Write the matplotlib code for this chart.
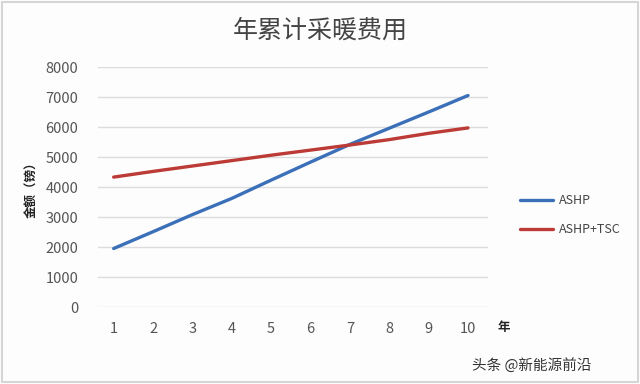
import matplotlib
matplotlib.use("Agg")
import matplotlib.pyplot as plt
from matplotlib.patches import Rectangle

plt.rcParams['font.family'] = ['Noto Sans CJK SC', 'DejaVu Sans']

years = [1, 2, 3, 4, 5, 6, 7, 8, 9, 10]
ashp = [1950, 2510, 3080, 3620, 4230, 4830, 5420, 5960, 6500, 7050]
ashp_tsc = [4330, 4520, 4700, 4880, 5060, 5230, 5400, 5580, 5790, 5970]
yticks = [0, 1000, 2000, 3000, 4000, 5000, 6000, 7000, 8000]

fig = plt.figure(figsize=(6.4, 3.84), dpi=100)
fig.patch.set_facecolor('#fdfdfe')
ax = fig.add_axes([0.153, 0.2005, 0.609, 0.625])
ax.set_facecolor('#fdfdfe')

ax.plot(years, ashp, color='#3b70b9', lw=2.4, label='ASHP', solid_capstyle='round')
ax.plot(years, ashp_tsc, color='#bc3b36', lw=2.4, label='ASHP+TSC', solid_capstyle='round')

ax.set_xlim(0.6, 10.5)
ax.set_ylim(0, 8000)
ax.set_yticks(yticks)
ax.set_xticks(years)
ax.yaxis.grid(True, color='#dcdcdc', lw=1)
ax.set_axisbelow(True)
for s in ax.spines.values():
    s.set_visible(False)
ax.tick_params(axis='both', length=0, labelsize=10.5, colors='#555555')
ax.tick_params(axis='y', pad=14)
ax.tick_params(axis='x', pad=11)
ax.set_ylabel('金额（镑）', fontsize=9, color='#222222', labelpad=5, fontweight='bold')

fig.text(0.5, 0.92, '年累计采暖费用', ha='center', va='center', fontsize=18,
         color='#444444', fontweight='light')
fig.text(0.787, 0.148, '年', ha='center', va='center', fontsize=9, color='#222222', fontweight='bold')
fig.text(0.925, 0.048, '头条 @新能源前沿', ha='right', va='center', fontsize=10.5, color='#333333')

fig.legend(loc='center left', bbox_to_anchor=(0.795, 0.44), frameon=False,
           fontsize=9, labelspacing=1.3, handlelength=2.6, handletextpad=0.5,
           labelcolor='#444444')

fig.patches.append(Rectangle((0.003, 0.005), 0.994, 0.99, transform=fig.transFigure,
                             fill=False, edgecolor='#d5d5d5', lw=1.5))

fig.savefig('out.png', dpi=100)
